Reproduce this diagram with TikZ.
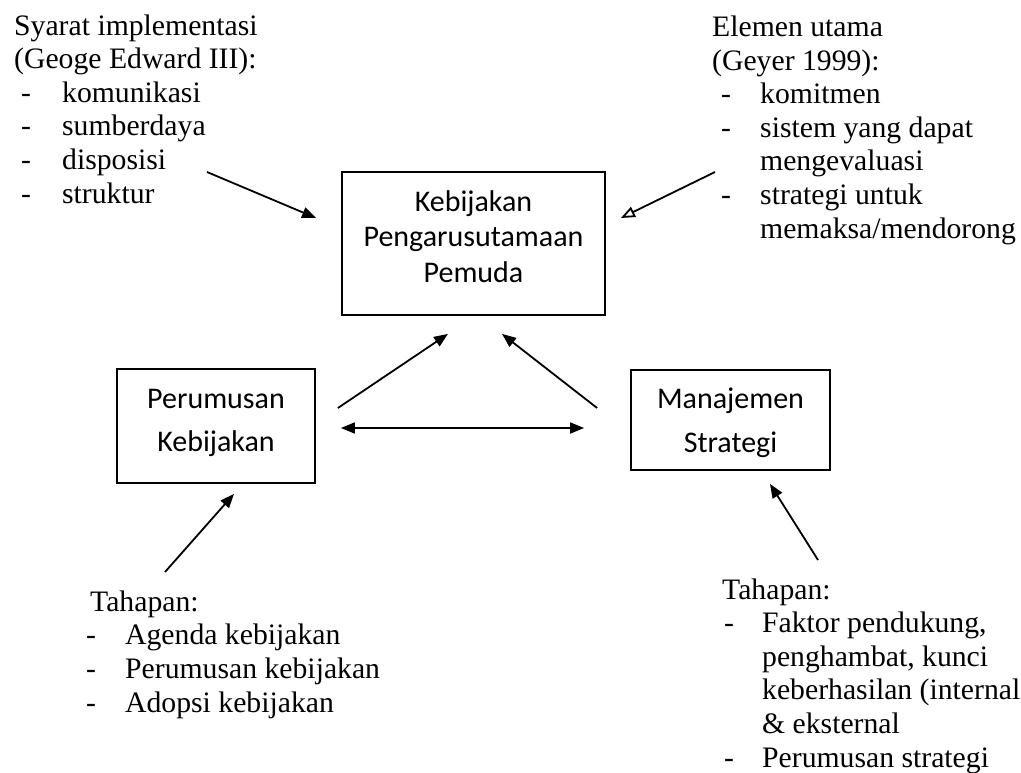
\documentclass[tikz,border=0pt]{standalone}
\usepackage{fontspec}
\setmainfont{Liberation Serif}
\newfontfamily\calib{Carlito}
\usetikzlibrary{arrows.meta}
\newcommand{\dsh}[2]{\makebox[#1][l]{\hspace*{#2}-}}
\begin{document}
\begin{tikzpicture}[x=1pt,y=-1pt,
  txt/.style={anchor=base west, inner sep=0pt, align=left, font=\fontsize{29.7}{33.6}\selectfont},
  boxnode/.style={draw, line width=1.8pt, inner sep=0pt},
  btxt/.style={anchor=base, inner sep=0pt, align=center},
  arr/.style={line width=1.8pt, -{Triangle[length=14pt,width=11pt]}},
  oarr/.style={line width=1.8pt, -{Triangle[open,length=14pt,width=11pt]}},
  darr/.style={line width=1.8pt, {Triangle[length=14pt,width=11pt]}-{Triangle[length=14pt,width=11pt]}}]
\fill[white] (0,0) rectangle (1021,772);
\useasboundingbox (0,0) rectangle (1021,772);

% boxes
\node[boxnode, minimum width=263pt, minimum height=143pt] (cbox) at (473.5,243.5) {};
\node[boxnode, minimum width=198pt, minimum height=114pt] (lbox) at (216,426) {};
\node[boxnode, minimum width=199pt, minimum height=100pt] (rbox) at (730.5,420) {};

\node[btxt, font=\calib\fontsize{30}{35.5}\selectfont] (ctext) at (473.5,282) {Kebijakan\\Pengarusutamaan\\Pemuda};
\node[btxt, font=\calib\fontsize{30}{43}\selectfont] (ltext) at (216,451) {Perumusan\\Kebijakan};
\node[btxt, font=\calib\fontsize{30}{44}\selectfont] (rtext) at (730.5,452) {Manajemen\\Strategi};

% text blocks (anchored at the baseline of their last line)
\node[txt] (tl) at (14,203) {Syarat implementasi\\(Geoge Edward III):\\
\dsh{48pt}{7pt}komunikasi\\\dsh{48pt}{7pt}sumberdaya\\\dsh{48pt}{7pt}disposisi\\\dsh{48pt}{7pt}struktur};
\node[txt] (tr) at (712,238) {Elemen utama\\(Geyer 1999):\\
\dsh{48pt}{9pt}komitmen\\\dsh{48pt}{9pt}sistem yang dapat\\\hspace*{48pt}mengevaluasi\\
\dsh{48pt}{9pt}strategi untuk\\\hspace*{48pt}memaksa/mendorong};
\node[txt] (bl) at (85,712) {\hspace*{5pt}Tahapan:\\
\dsh{40pt}{1pt}Agenda kebijakan\\\dsh{40pt}{1pt}Perumusan kebijakan\\\dsh{40pt}{1pt}Adopsi kebijakan};
\node[txt] (br) at (722,767) {Tahapan:\\
\dsh{40pt}{2pt}Faktor pendukung,\\\hspace*{40pt}penghambat, kunci\\\hspace*{40pt}keberhasilan (internal\\\hspace*{40pt}\& eksternal\\
\dsh{40pt}{2pt}Perumusan strategi};

% arrow start points near the text blocks
\coordinate (tlS) at (207,172);
\coordinate (trS) at (715,172);
\coordinate (blS) at (165,572);
\coordinate (brS) at (818,560);

\draw[arr] (tlS) -- ([xshift=-25pt,yshift=25.5pt]cbox.west);
\draw[oarr] (trS) -- ([xshift=15pt,yshift=25.5pt]cbox.east);
\draw[arr] ([xshift=22pt,yshift=18pt]lbox.east) -- ([xshift=-25.5pt,yshift=-18pt]cbox.south);
\draw[arr] ([xshift=-33pt,yshift=12pt]rbox.west) -- ([xshift=28.5pt,yshift=-18pt]cbox.south);
\draw[darr] ([xshift=25pt,yshift=-2pt]lbox.east) -- ([xshift=-46pt,yshift=-8pt]rbox.west);
\draw[arr] (blS) -- ([xshift=18pt,yshift=-10pt]lbox.south);
\draw[arr] (brS) -- ([xshift=39.5pt,yshift=-13pt]rbox.south);
\end{tikzpicture}
\end{document}
